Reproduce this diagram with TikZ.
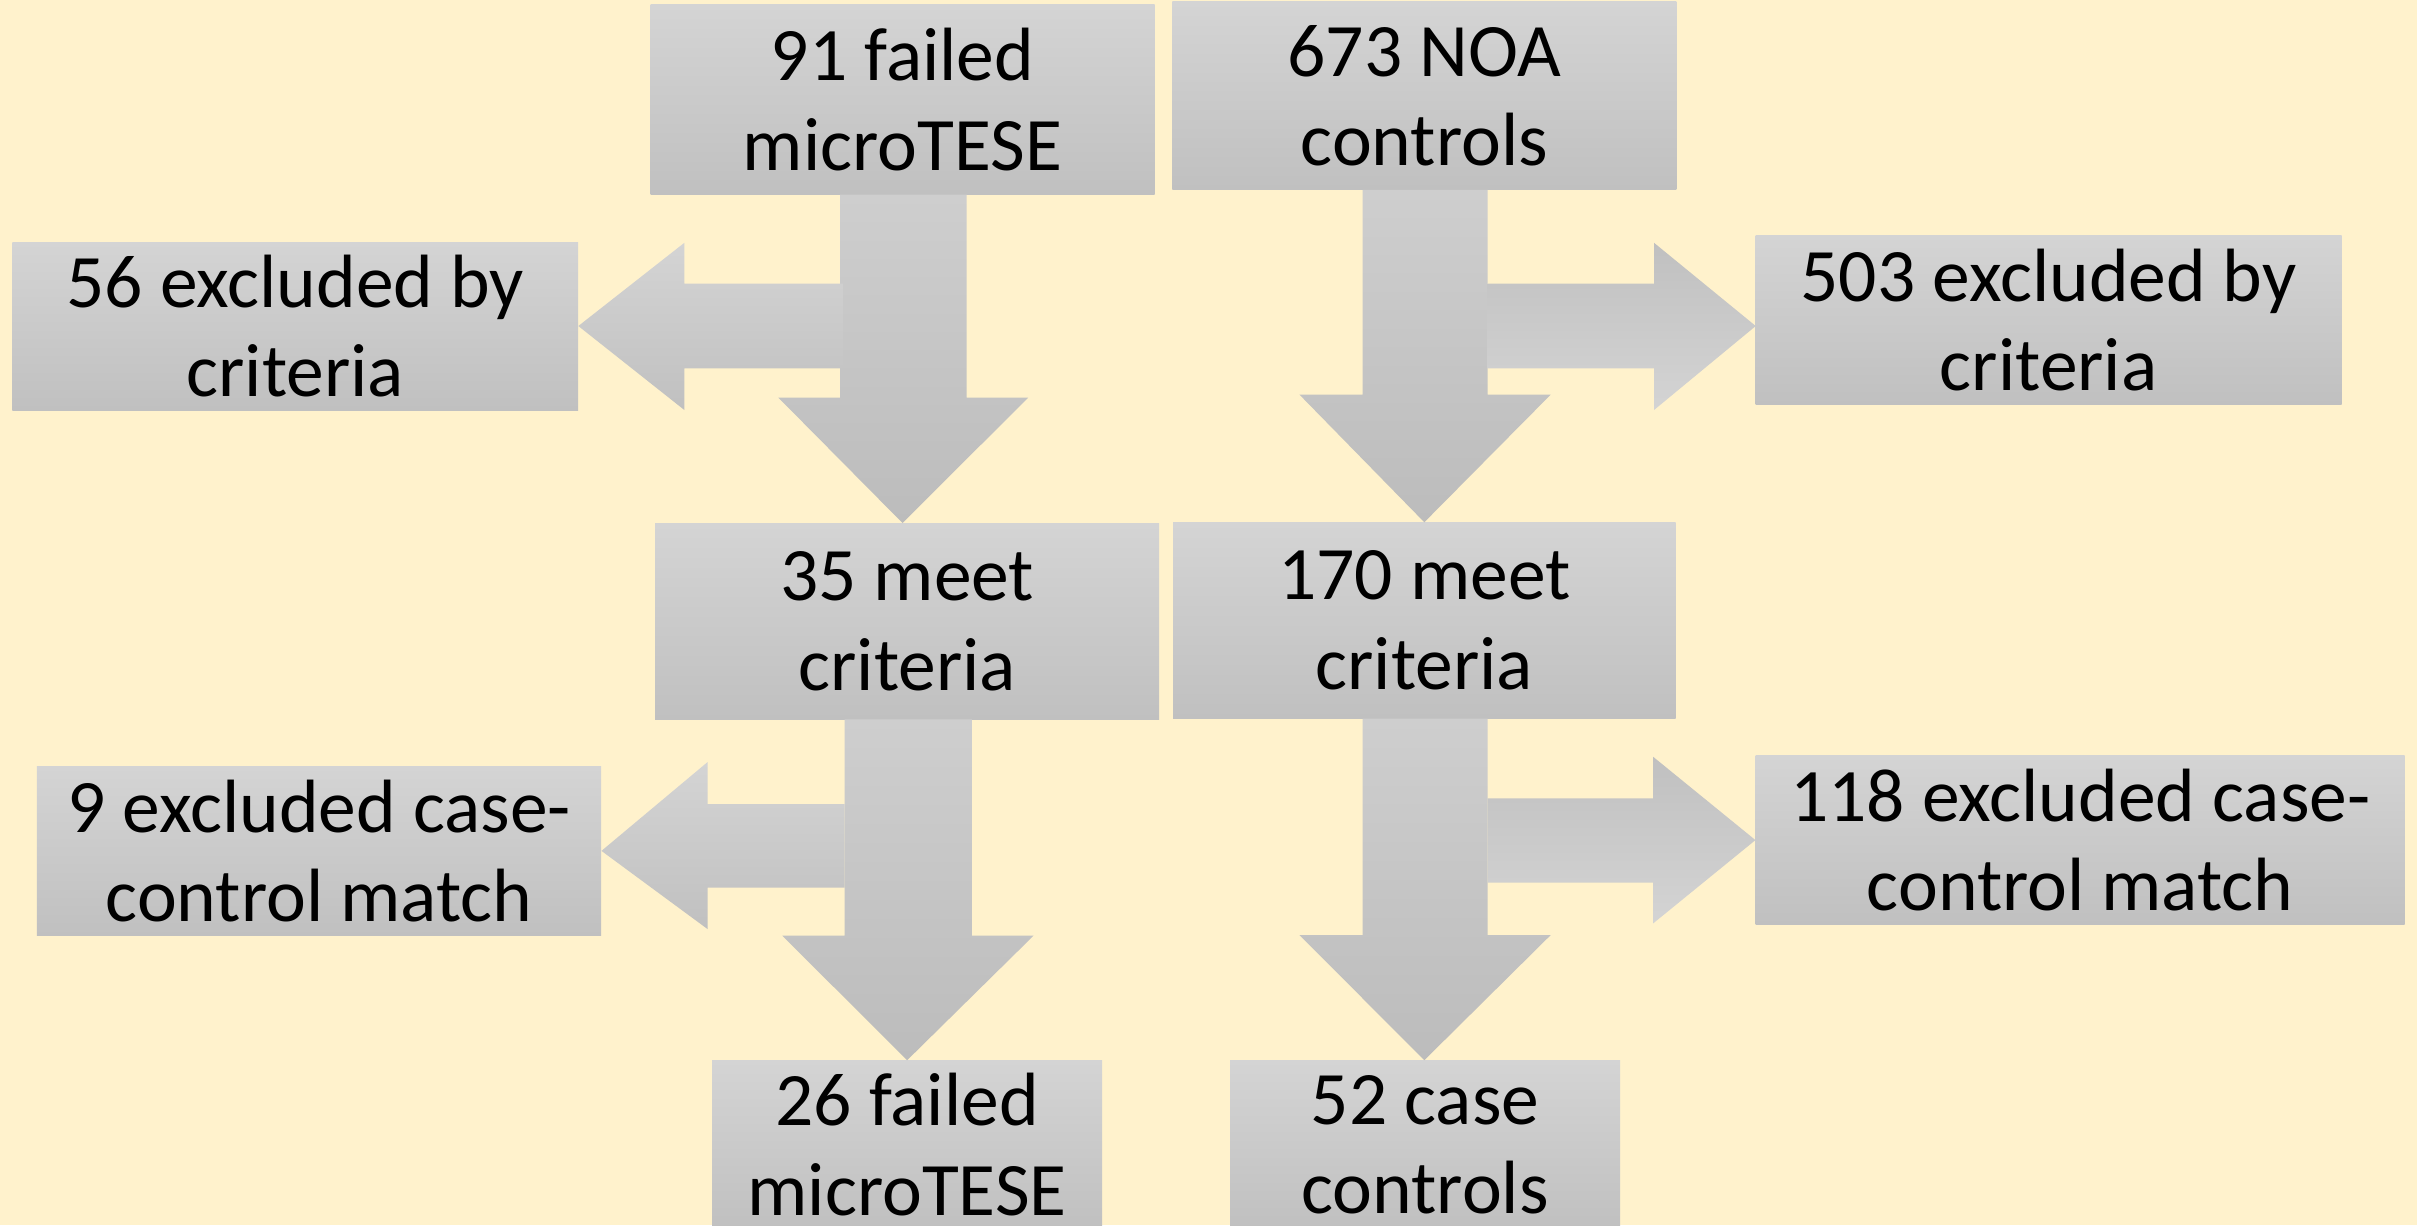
\documentclass[tikz,border=0pt]{standalone}
\usepackage{fontspec}
\setmainfont{Carlito}
\usetikzlibrary{calc}
\definecolor{bgcol}{HTML}{FFF2CC}
\definecolor{gtop}{HTML}{D4D4D4}
\definecolor{gbot}{HTML}{C0C0C0}
\definecolor{atop}{HTML}{CECECE}
\definecolor{abot}{HTML}{BCBCBC}
\tikzset{
  box/.style={shade, top color=gtop, bottom color=gbot, inner sep=0pt, align=center,
    font=\fontsize{49}{58}\selectfont, text=black},
  downarrow/.style={shade, top color=atop, bottom color=abot, draw=none},
  sidearrow/.style={shade, top color=gtop, bottom color=gbot, draw=none},
  sidearrowrev/.style={shade, top color=gbot, bottom color=gtop, draw=none},
}
\begin{document}
\begin{tikzpicture}[x=1pt,y=-1pt]
\useasboundingbox (0,0) rectangle (1568,795);
\fill[bgcol] (0,0) rectangle (1568,795);
\begin{scope}
\clip (0,0) rectangle (1568,795);
% boxes
\node[box, minimum width=327, minimum height=123] (A) at (585.5,64.5) {91 failed\\microTESE};
\node[box, minimum width=327, minimum height=122] (B) at (924,62) {673 NOA\\controls};
\node[box, minimum width=367, minimum height=109] (C) at (191.5,211.5) {56 excluded by\\criteria};
\node[box, minimum width=380, minimum height=110] (D) at (1329,207.5) {503 excluded by\\criteria};
\node[box, minimum width=327, minimum height=127] (E) at (588.5,403) {35 meet\\criteria};
\node[box, minimum width=326, minimum height=127] (F) at (924,402.5) {170 meet\\criteria};
\node[box, minimum width=366, minimum height=110] (G) at (207,552) {9 excluded case-\\control match};
\node[box, minimum width=421, minimum height=110] (H) at (1349.5,545) {118 excluded case-\\control match};
\node[box, minimum width=253, minimum height=109] (I) at (588.5,742.5) {26 failed\\microTESE};
\node[box, minimum width=253, minimum height=109] (J) at (924.5,742.5) {52 case\\controls};
% left system, row 1
\path[downarrow] (545,0 |- A.south) -- (545,258) -- (505,258) -- (A.south |- E.north)
  -- (667,258) -- (627,258) -- (627,0 |- A.south) -- cycle;
\path[sidearrow] (547,184) -- (444,184) -- (444,157.5) -- (C.east) -- (444,266)
  -- (444,239) -- (547,239) -- cycle;
% right system, row 1
\path[downarrow] (884,0 |- B.south) -- (884,256) -- (843,256) -- (B.south |- F.north)
  -- (1006,256) -- (965,256) -- (965,0 |- B.south) -- cycle;
\path[sidearrowrev] (965,184) -- (1073,184) -- (1073,157.5) -- (1139,211.5) -- (1073,266)
  -- (1073,239) -- (965,239) -- cycle;
% left system, row 2
\path[downarrow] (548,0 |- E.south) -- (548,607) -- (507.5,607) -- (I.north)
  -- (670.5,607) -- (630.5,607) -- (630.5,0 |- E.south) -- cycle;
\path[sidearrow] (548,521.6) -- (459,521.6) -- (459,494.4) -- (G.east) -- (459,602.7)
  -- (459,575.8) -- (548,575.8) -- cycle;
% right system, row 2
\path[downarrow] (884,0 |- F.south) -- (884,606.6) -- (843,606.6) -- (F.south |- J.north)
  -- (1006,606.6) -- (965,606.6) -- (965,0 |- F.south) -- cycle;
\path[sidearrowrev] (965,518) -- (1072.5,518) -- (1072.5,491) -- (H.west) -- (1072.5,599)
  -- (1072.5,572.6) -- (965,572.6) -- cycle;
\end{scope}
\end{tikzpicture}
\end{document}
